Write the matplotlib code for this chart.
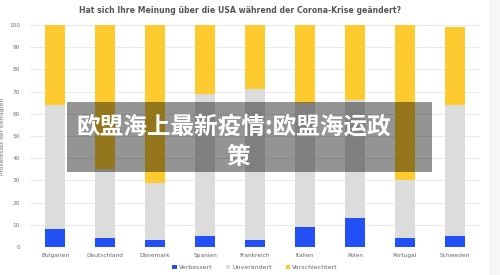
import matplotlib
matplotlib.use("Agg")
import matplotlib.pyplot as plt
from matplotlib.patches import Rectangle
import numpy as np

categories = ["Bulgarien", "Deutschland", "Dänemark", "Spanien", "Frankreich",
              "Italien", "Polen", "Portugal", "Schweden"]
verbessert = [8, 4, 3, 5, 3, 9, 13, 4, 5]
unveraendert = [56, 31, 26, 64, 68, 56, 53, 26, 59]
verschlechtert = [36, 65, 71, 31, 29, 35, 34, 70, 35]
yticks = list(range(0, 101, 10))
series_names = ["Verbessert", "Unverändert", "Verschlechtert"]
colors = ["#2350f4", "#dcdcdc", "#fdcb30"]
title = "Hat sich Ihre Meinung über die USA während der Corona-Krise geändert?"
ylabel = "Prozentsatz der Befragten"
overlay_line1 = "欧盟海上最新疫情:欧盟海运政"
overlay_line2 = "策"

fig = plt.figure(figsize=(5, 2.75), dpi=100)
ax = fig.add_axes([0.06, 0.1018, 0.90, 0.8073])

x = np.arange(len(categories))
bottom = np.zeros(len(categories))
for vals, name, c in zip([verbessert, unveraendert, verschlechtert], series_names, colors):
    ax.bar(x, vals, width=0.4, bottom=bottom, color=c, label=name, zorder=2)
    bottom += np.array(vals)

ax.set_xlim(-0.5, len(categories) - 0.5)
ax.set_ylim(0, 100)
ax.set_yticks(yticks)
ax.set_yticklabels([str(t) for t in yticks], fontsize=4.2, color="#777777")
ax.set_xticks(x)
ax.set_xticklabels(categories, fontsize=4.2, color="#666666")
ax.tick_params(axis="both", length=0, pad=7)
ax.tick_params(axis="x", pad=4)
ax.grid(axis="y", color="#e6e6e6", linewidth=0.6, zorder=0)
for s in ax.spines.values():
    s.set_visible(False)
ax.set_ylabel(ylabel, fontsize=4.2, color="#777777", labelpad=3)

fig.text(0.481, 0.962, title, ha="center", va="center", fontsize=5.6,
         fontweight="bold", color="#555555")

handles, labels = ax.get_legend_handles_labels()
fig.legend(handles, labels, loc="center", bbox_to_anchor=(0.51, 0.027), ncol=3,
           fontsize=4.5, frameon=False, handlelength=0.7, handleheight=0.7,
           handletextpad=0.3, columnspacing=2.2, labelcolor="#666666")

# overlay
fig.patches.append(Rectangle((67 / 500, 1 - 172 / 275), (432 - 67) / 500, (172 - 102) / 275,
                             transform=fig.transFigure, facecolor="black", alpha=0.42,
                             edgecolor="none", zorder=5))
fig.patches.append(Rectangle((489 / 500, 0), 11 / 500, 1,
                             transform=fig.transFigure, facecolor="#f6f6f6",
                             edgecolor="none", zorder=5))
fig.text(77 / 500, 1 - 127 / 275, overlay_line1, ha="left", va="center", fontsize=17,
         fontweight="bold", color="white", family=["Noto Sans CJK SC", "DejaVu Sans"], zorder=6)
fig.text(238 / 500, 1 - 157 / 275, overlay_line2, ha="center", va="center", fontsize=17,
         fontweight="bold", color="white", family=["Noto Sans CJK SC", "DejaVu Sans"], zorder=6)

fig.savefig("out.png", dpi=100)
